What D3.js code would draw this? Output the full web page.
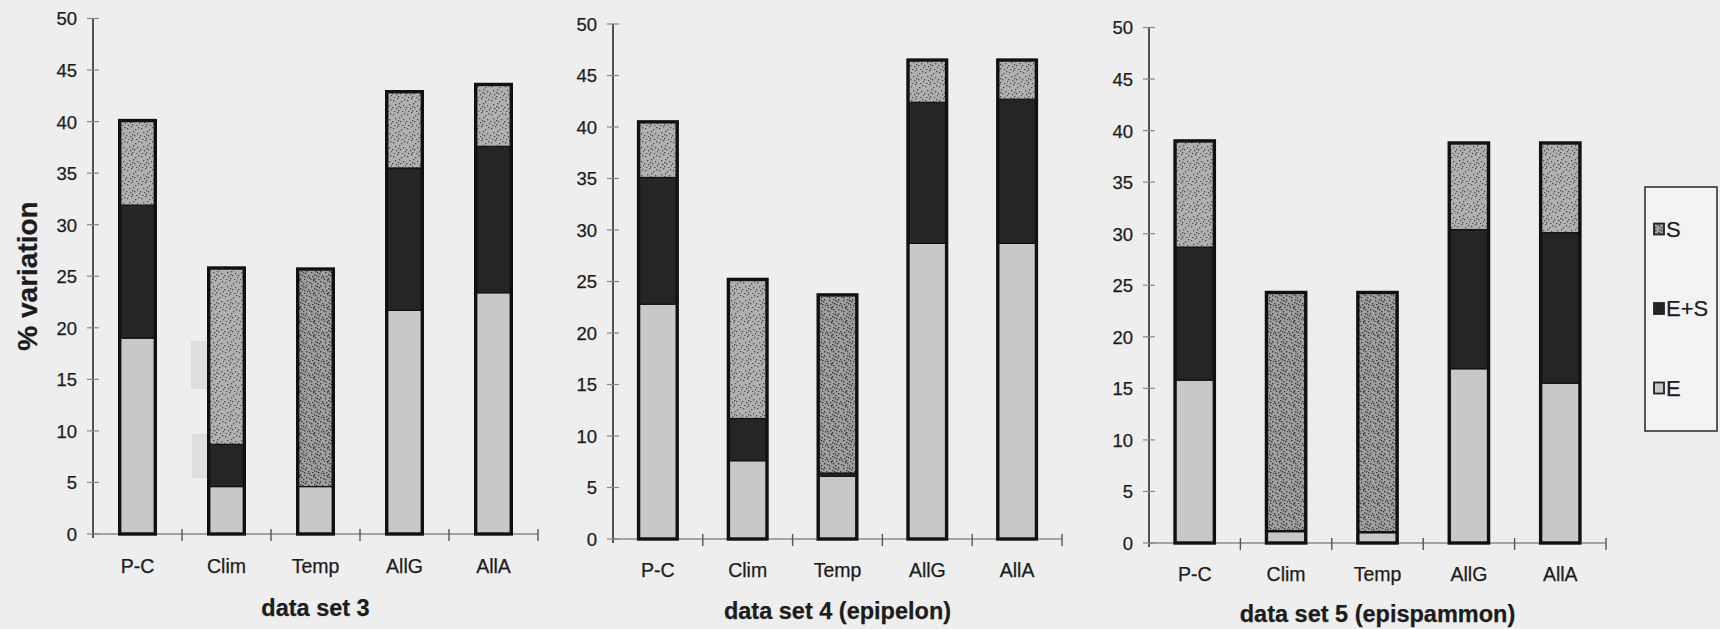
<!DOCTYPE html>
<html>
<head>
<meta charset="utf-8">
<script src="https://cdn.jsdelivr.net/npm/d3@7"></script>
<style>
  html, body { margin: 0; padding: 0; background: #eeeeee; }
  svg { display: block; }
  text { font-family: "Liberation Sans", Arial, sans-serif; fill: #1c1c1c; stroke: #1c1c1c; stroke-width: 0.25px; }
</style>
</head>
<body>
<svg id="chart" width="1720" height="629"></svg>
<script>
// ---- data ----
const categories = ["P-C", "Clim", "Temp", "AllG", "AllA"];
const seriesNames = ["E", "E+S", "S"];
const yTicks = [0, 5, 10, 15, 20, 25, 30, 35, 40, 45, 50];
const panelTitles = ["data set 3", "data set 4 (epipelon)", "data set 5 (epispammon)"];
const legendLabels = ["S", "E+S", "E"];

// data set 3
const ds3_E  = [19.0, 4.6, 4.6, 21.7, 23.4];
const ds3_ES = [12.9, 4.1, 0.0, 13.8, 14.2];
const ds3_S  = [8.2, 17.1, 21.1, 7.4, 6.0];
// data set 4 (epipelon)
const ds4_E  = [22.8, 7.6, 6.1, 28.7, 28.7];
const ds4_ES = [12.3, 4.1, 0.3, 13.7, 14.0];
const ds4_S  = [5.4, 13.5, 17.3, 4.1, 3.8];
// data set 5 (epispammon)
const ds5_E  = [15.8, 1.1, 1.0, 16.9, 15.5];
const ds5_ES = [12.9, 0.1, 0.1, 13.5, 14.6];
const ds5_S  = [10.3, 23.1, 23.2, 8.4, 8.7];

const datasets = [
  [ds3_E, ds3_ES, ds3_S],
  [ds4_E, ds4_ES, ds4_S],
  [ds5_E, ds5_ES, ds5_S]
];

// ---- layout ----
const panels = [
  { x0: 93,   x1: 538,  y0: 534, y50: 18.5, pad: 0.60, labelY: 566, titleY: 608 },
  { x0: 613,  x1: 1062, y0: 539, y50: 24,   pad: 0.57, labelY: 570, titleY: 611 },
  { x0: 1149, x1: 1606, y0: 543, y50: 27.5, pad: 0.57, labelY: 574, titleY: 614 }
];

const svg = d3.select("#chart");
const defs = svg.append("defs");

// scan artifacts (faint patches seen in the reference near panel 1)
svg.append("rect").attr("x", 191).attr("y", 341).attr("width", 29).attr("height", 48).attr("fill", "#dedede");
svg.append("rect").attr("x", 192).attr("y", 434).attr("width", 16).attr("height", 44).attr("fill", "#dedede");

// stipple pattern for S (fixed dot layout)
const pat = defs.append("pattern").attr("id", "stipple")
  .attr("patternUnits", "userSpaceOnUse").attr("width", 14).attr("height", 14);
pat.append("rect").attr("width", 14).attr("height", 14).attr("fill", "#b0b0b0");
const dots = [[1,2],[5,0],[9,3],[12,1],[3,6],[7,5],[11,7],[0,9],[4,10],[8,9],[13,11],[2,13],[6,12],[10,13],[6,8]];
pat.selectAll("rect.d").data(dots).enter().append("rect").attr("class", "d")
  .attr("x", d => d[0]).attr("y", d => d[1]).attr("width", 1.3).attr("height", 1.3)
  .attr("fill", "#4a4a4a");

const pat2 = defs.append("pattern").attr("id", "stippleDense")
  .attr("patternUnits", "userSpaceOnUse").attr("width", 14).attr("height", 14);
pat2.append("rect").attr("width", 14).attr("height", 14).attr("fill", "#a0a0a0");
const dots2 = dots.concat([[3,3],[10,10],[1,11],[12,5],[7,1],[5,13],[9,6]]);
pat2.selectAll("rect.d").data(dots2).enter().append("rect").attr("class", "d")
  .attr("x", d => d[0]).attr("y", d => d[1]).attr("width", 1.4).attr("height", 1.4)
  .attr("fill", "#3a3a3a");

const fills = { "E": "#c8c8c8", "E+S": "#252525", "S": "url(#stipple)" };

panels.forEach((p, pi) => {
  const [eArr, esArr, sArr] = datasets[pi];
  const rows = categories.map((c, i) => ({ cat: c, "E": eArr[i], "E+S": esArr[i], "S": sArr[i] }));
  const stacked = d3.stack().keys(seriesNames)(rows);

  const x = d3.scaleBand().domain(categories).range([p.x0, p.x1])
    .paddingInner(p.pad).paddingOuter(p.pad / 2);
  const y = d3.scaleLinear().domain([0, 50]).range([p.y0, p.y50]);
  const g = svg.append("g");

  // x axis line
  g.append("line").attr("x1", p.x0).attr("x2", p.x1).attr("y1", p.y0).attr("y2", p.y0)
    .attr("stroke", "#8a8a8a").attr("stroke-width", 1.5);
  const step = x.step();
  const bounds = d3.range(categories.length + 1).map(i => p.x0 + i * step);
  g.selectAll("line.xt").data(bounds.slice(1)).enter().append("line")
    .attr("x1", d => d).attr("x2", d => d)
    .attr("y1", p.y0 - 5).attr("y2", p.y0 + 7)
    .attr("stroke", "#555").attr("stroke-width", 1.4);

  // y axis
  const yAxis = d3.axisLeft(y).tickValues(yTicks).tickSize(0).tickPadding(16);
  const ya = g.append("g").attr("transform", `translate(${p.x0},0)`).call(yAxis);
  ya.select(".domain").remove();
  ya.selectAll("text").style("font-size", "18.5px").style("font-family", "Liberation Sans, Arial, sans-serif")
    .attr("fill", "#1c1c1c").attr("dy", "0.35em");
  g.append("line").attr("x1", p.x0).attr("x2", p.x0).attr("y1", y(50)).attr("y2", p.y0 + 4)
    .attr("stroke", "#2a2a2a").attr("stroke-width", 1.6);
  g.selectAll("line.yt").data(yTicks).enter().append("line")
    .attr("x1", p.x0 - 6).attr("x2", p.x0 + 6)
    .attr("y1", d => y(d)).attr("y2", d => y(d))
    .attr("stroke", "#888").attr("stroke-width", 1.2);

  // bars
  stacked.forEach(layer => {
    g.selectAll(null).data(layer).enter().append("rect")
      .attr("x", d => x(d.data.cat))
      .attr("y", d => y(d[1]))
      .attr("width", x.bandwidth())
      .attr("height", d => Math.max(0, y(d[0]) - y(d[1])))
      .attr("fill", d => {
        if (layer.key === "S" && (d.data.cat === "Temp" || (pi === 2 && d.data.cat === "Clim"))) return "url(#stippleDense)";
        return fills[layer.key];
      })
      .attr("stroke", "#111").attr("stroke-width", 1.2);
  });
  const top = stacked[stacked.length - 1];
  g.selectAll(null).data(top).enter().append("rect")
    .attr("x", d => x(d.data.cat))
    .attr("y", d => y(d[1]))
    .attr("width", x.bandwidth())
    .attr("height", d => y(0) - y(d[1]))
    .attr("fill", "none").attr("stroke", "#111").attr("stroke-width", 3.4);

  // category labels
  g.selectAll(null).data(categories).enter().append("text")
    .attr("x", d => x(d) + x.bandwidth() / 2)
    .attr("y", p.labelY).attr("dy", "0.35em")
    .attr("text-anchor", "middle").style("font-size", "19.5px")
    .text(d => d);

  // panel title
  g.append("text").attr("x", (p.x0 + p.x1) / 2).attr("y", p.titleY).attr("dy", "0.35em")
    .attr("text-anchor", "middle").style("font-size", "23.5px").style("font-weight", "bold")
    .text(panelTitles[pi]);
});

// y axis title
svg.append("text").attr("transform", "translate(27,276) rotate(-90)")
  .attr("dy", "0.35em").attr("text-anchor", "middle")
  .style("font-size", "28px").style("font-weight", "bold").text("% variation");

// legend
const lg = svg.append("g");
lg.append("rect").attr("x", 1645).attr("y", 187).attr("width", 72).attr("height", 244)
  .attr("fill", "#f3f3f3").attr("stroke", "#333").attr("stroke-width", 1.6);
const legendFill = { "S": "url(#stippleDense)", "E+S": "#252525", "E": "#c8c8c8" };
const ly = d3.scalePoint().domain(legendLabels).range([229, 388]);
lg.selectAll(null).data(legendLabels).enter().append("rect")
  .attr("x", 1654).attr("y", d => ly(d) - 5.5).attr("width", 10).attr("height", 11)
  .attr("fill", d => legendFill[d]).attr("stroke", "#222").attr("stroke-width", 1.8);
lg.selectAll(null).data(legendLabels).enter().append("text")
  .attr("x", 1666).attr("y", d => ly(d)).attr("dy", "0.35em")
  .style("font-size", "22px").text(d => d);
</script>
</body>
</html>
